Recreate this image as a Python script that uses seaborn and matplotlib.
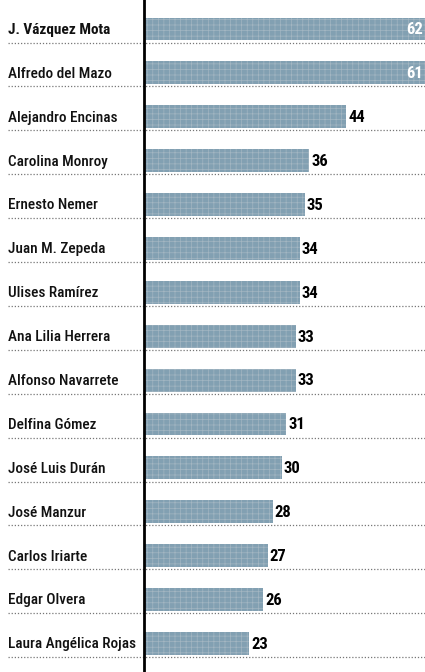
import matplotlib
matplotlib.use("Agg")
import matplotlib.pyplot as plt
import matplotlib.transforms as mtransforms
import seaborn as sns
import pandas as pd

# Data
names = [
    "J. Vázquez Mota", "Alfredo del Mazo", "Alejandro Encinas", "Carolina Monroy",
    "Ernesto Nemer", "Juan M. Zepeda", "Ulises Ramírez", "Ana Lilia Herrera",
    "Alfonso Navarrete", "Delfina Gómez", "José Luis Durán", "José Manzur",
    "Carlos Iriarte", "Edgar Olvera", "Laura Angélica Rojas",
]
values = [62, 61, 44, 36, 35, 34, 34, 33, 33, 31, 30, 28, 27, 26, 23]

df = pd.DataFrame({"name": names, "value": values})

sns.set_style("white")
plt.rcParams["font.family"] = ["Roboto Condensed", "DejaVu Sans"]
plt.rcParams["font.stretch"] = "condensed"
plt.rcParams["hatch.linewidth"] = 0.5

fig = plt.figure(figsize=(4.25, 6.72), dpi=100)
ax = fig.add_axes([143.5 / 425, 0, 1 - 143.5 / 425, 1])

sns.barplot(data=df, x="value", y="name", orient="h", color="#82a0b2",
            width=0.52, saturation=1, ax=ax)
for p in ax.patches:
    p.set_hatch("+++")
    p.set_edgecolor("#a3b6c2")
    p.set_linewidth(0)

ax.set_xlim(0, 61.1)
ax.set_ylim(14.65, -0.66)
ax.set_xlabel("")
ax.set_ylabel("")
ax.set_xticks([])
ax.set_yticks([])
for s in ["top", "right", "bottom"]:
    ax.spines[s].set_visible(False)
ax.spines["left"].set_color("black")
ax.spines["left"].set_linewidth(2)
ax.spines["left"].set_zorder(5)

label_tr = mtransforms.blended_transform_factory(fig.transFigure, ax.transData)
for i, (n, v) in enumerate(zip(names, values)):
    # first name is highlighted in the original
    weight = "bold" if i == 0 else "medium"
    ax.text(8 / 425, i + 0.02, n, transform=label_tr, ha="left", va="center",
            fontsize=11, fontweight=weight, color="#111111")
    # dotted separator under each row
    ax.plot([8 / 425, 1], [i + 0.31, i + 0.31], transform=label_tr,
            color="#777777", linestyle=(0, (1, 1.5)), linewidth=0.9, clip_on=False)
    if v >= 61:
        ax.text(60.6, i + 0.02, str(v), ha="right", va="center", fontsize=12,
                fontweight="bold", color="white")
    else:
        ax.text(v + 0.4, i + 0.02, str(v), ha="left", va="center", fontsize=12,
                fontweight="bold", color="black")

fig.savefig("out.png", dpi=100)
